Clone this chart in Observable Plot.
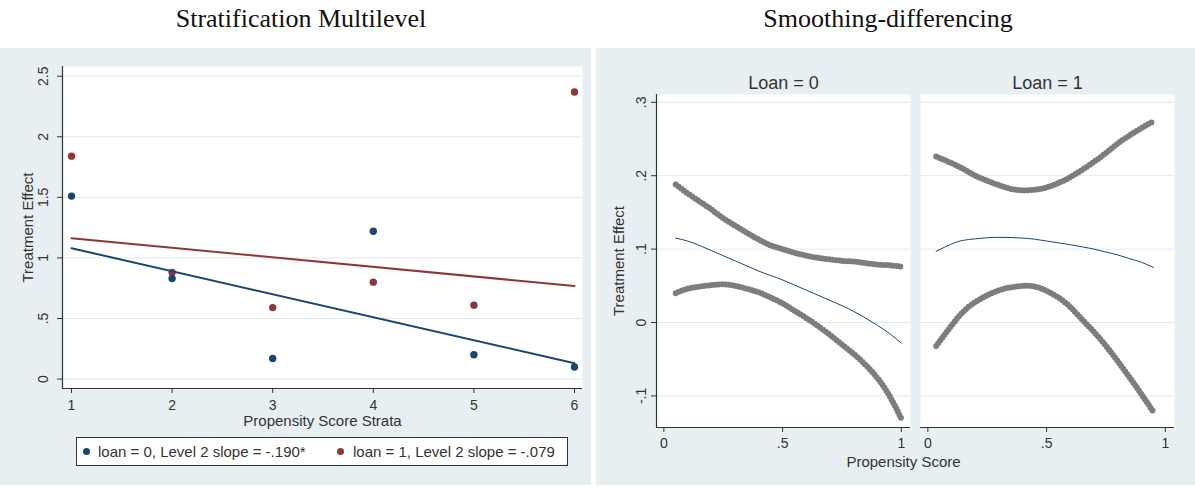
<!DOCTYPE html>
<html>
<head>
<meta charset="utf-8">
<script src="https://cdn.jsdelivr.net/npm/d3@7"></script>
<script src="https://cdn.jsdelivr.net/npm/@observablehq/plot@0.6"></script>
<style>
  html, body { margin: 0; padding: 0; background: #fff; }
  #fig { position: relative; width: 1195px; height: 487px; overflow: hidden;
         font-family: "Liberation Sans", Arial, sans-serif; color: #333; }
  .panel { position: absolute; background: #e8eff2; }
  .title { position: absolute; transform: translateX(-50%); white-space: nowrap;
           font-family: "Liberation Serif", "Times New Roman", serif; font-size: 26px; color: #111; }
  .chart { position: absolute; }
  #legend { position: absolute; left: 76px; top: 437px; width: 490px; height: 27px;
            background: #fff; border: 1px solid #333; font-size: 15px; }
  #legend .dot { position: absolute; top: 10px; width: 7px; height: 7px; border-radius: 50%; }
  #legend .lab { position: absolute; top: 0; line-height: 28px; white-space: nowrap; color: #333; }
</style>
</head>
<body>
<div id="fig">
  <div class="panel" style="left:0;top:48px;width:591px;height:437px"></div>
  <div class="panel" style="left:596px;top:48px;width:599px;height:437px"></div>
  <div class="title" style="left:301px;top:4px">Stratification Multilevel</div>
  <div class="title" style="left:888px;top:4px">Smoothing-differencing</div>
  <div class="chart" id="left" style="left:0;top:48px"></div>
  <div class="chart" id="right" style="left:596px;top:48px"></div>
  <div id="legend"></div>
</div>
<script>
// ---------- Stratification multilevel: treatment effect per propensity score stratum ----------
const strata = [1, 2, 3, 4, 5, 6];
const effectLoan0 = [1.51, 0.83, 0.17, 1.22, 0.20, 0.10];
const effectLoan1 = [1.84, 0.88, 0.59, 0.80, 0.61, 2.37];
const loanGroups = ["0", "1"];
const groupColors = ["#1a476f", "#90353b"];
const level2Intercepts = [1.27, 1.242];
const level2Slopes = [-0.190, -0.079];
const slopeStars = ["*", ""];
const strataTicks = [1, 2, 3, 4, 5, 6];
const effectTicks = [0, 0.5, 1, 1.5, 2, 2.5];

// ---------- Smoothing-differencing: local polynomial estimate with confidence bounds ----------
const loanFacets = ["Loan = 0", "Loan = 1"];
const scoreLoan0 = [0.05, 0.10, 0.15, 0.20, 0.25, 0.30, 0.35, 0.40, 0.45, 0.50,
                    0.55, 0.60, 0.65, 0.70, 0.75, 0.80, 0.85, 0.90, 0.95, 1.00];
const upperLoan0 = [0.188, 0.176, 0.165, 0.154, 0.142, 0.132, 0.122, 0.113, 0.105, 0.100,
                    0.095, 0.091, 0.088, 0.086, 0.084, 0.083, 0.081, 0.079, 0.078, 0.076];
const smoothLoan0 = [0.115, 0.111, 0.105, 0.098, 0.091, 0.084, 0.077, 0.070, 0.064, 0.058,
                     0.051, 0.044, 0.037, 0.030, 0.023, 0.015, 0.006, -0.004, -0.015, -0.028];
const lowerLoan0 = [0.040, 0.046, 0.049, 0.051, 0.052, 0.050, 0.046, 0.041, 0.034, 0.026,
                    0.016, 0.006, -0.005, -0.017, -0.030, -0.043, -0.058, -0.076, -0.100, -0.131];
const scoreLoan1 = [0.035, 0.10, 0.15, 0.20, 0.25, 0.30, 0.35, 0.40, 0.45, 0.50,
                    0.55, 0.60, 0.65, 0.70, 0.75, 0.80, 0.85, 0.90, 0.95];
const upperLoan1 = [0.226, 0.217, 0.209, 0.200, 0.193, 0.187, 0.182, 0.180, 0.181, 0.184,
                    0.190, 0.198, 0.208, 0.219, 0.231, 0.244, 0.255, 0.265, 0.274];
const smoothLoan1 = [0.097, 0.107, 0.112, 0.114, 0.1155, 0.116, 0.1158, 0.115, 0.1135, 0.111,
                     0.1085, 0.106, 0.103, 0.100, 0.096, 0.092, 0.087, 0.082, 0.075];
const lowerLoan1 = [-0.032, -0.004, 0.015, 0.028, 0.037, 0.044, 0.048, 0.050, 0.049, 0.043,
                    0.034, 0.021, 0.004, -0.013, -0.032, -0.053, -0.075, -0.098, -0.122];
const scoreTicks = [0, 0.5, 1];
const smoothTicks = [-0.1, 0, 0.1, 0.2, 0.3];

// Stata-style numbers: drop the leading zero (".5", "-.1")
const fmt = d => String(Math.round(d * 1000) / 1000).replace(/^(-?)0\./, "$1.");
const fmtSlope = d => d.toFixed(3).replace(/^(-?)0\./, "$1.");

const ink = "#333";
const gridColor = "#e3e9ec";
const fontFamily = "'Liberation Sans', Arial, sans-serif";

// ---------- left chart ----------
const effects = [effectLoan0, effectLoan1];
const pointRows = loanGroups.map((g, gi) =>
  strata.map((s, i) => ({stratum: s, effect: effects[gi][i], loan: g})));
const fitRows = loanGroups.map((g, gi) =>
  [strata[0], strata[strata.length - 1]].map(s => ({stratum: s, effect: level2Intercepts[gi] + level2Slopes[gi] * s, loan: g})));

const xL = [0.9105, 6.0795];
const yL = [-0.078, 2.58];

const left = Plot.plot({
  width: 591, height: 392,
  marginLeft: 62, marginRight: 9, marginTop: 18, marginBottom: 52,
  x: {domain: xL},
  y: {domain: yL},
  style: {fontFamily, fontSize: "14px", color: ink, background: "transparent", overflow: "visible"},
  marks: [
    Plot.frame({fill: "white", stroke: null}),
    Plot.gridY(effectTicks, {stroke: gridColor, strokeOpacity: 1}),
    Plot.ruleX([xL[0]], {stroke: ink, strokeWidth: 1.2}),
    Plot.ruleY([yL[0]], {stroke: ink, strokeWidth: 1.2}),
    Plot.axisX({ticks: strataTicks, tickSize: 5, tickPadding: 6.5, tickFormat: fmt, label: null, stroke: ink}),
    Plot.axisY({ticks: effectTicks, tickSize: 5, tickPadding: 10, tickRotate: -90, tickFormat: fmt, label: null, stroke: ink}),
    Plot.dot(pointRows[1], {x: "stratum", y: "effect", r: 3.7, fill: groupColors[1], stroke: null}),
    Plot.dot(pointRows[0], {x: "stratum", y: "effect", r: 3.7, fill: groupColors[0], stroke: null}),
    Plot.line(fitRows[1], {x: "stratum", y: "effect", stroke: groupColors[1], strokeWidth: 2}),
    Plot.line(fitRows[0], {x: "stratum", y: "effect", stroke: groupColors[0], strokeWidth: 2}),
    Plot.text(["Propensity Score Strata"], {text: d => d, frameAnchor: "bottom", lineAnchor: "bottom", dy: 37, fontSize: 15, fill: ink}),
    Plot.text(["Treatment Effect"], {text: d => d, frameAnchor: "left", rotate: -90, textAnchor: "middle", lineAnchor: "bottom", dx: -30, fontSize: 15, fill: ink})
  ]
});
document.getElementById("left").appendChild(left);

// legend below the left chart
const legend = document.getElementById("legend");
const legendPos = [[6, 21], [260, 276]];
loanGroups.forEach((g, gi) => {
  const dot = document.createElement("span");
  dot.className = "dot";
  dot.style.left = legendPos[gi][0] + "px";
  dot.style.background = groupColors[gi];
  const lab = document.createElement("span");
  lab.className = "lab";
  lab.style.left = legendPos[gi][1] + "px";
  lab.textContent = `loan = ${g}, Level 2 slope = ${fmtSlope(level2Slopes[gi])}${slopeStars[gi]}`;
  legend.appendChild(dot);
  legend.appendChild(lab);
});

// ---------- right chart (faceted by loan) ----------
const bandSeries = [
  [scoreLoan0, upperLoan0, smoothLoan0, lowerLoan0],
  [scoreLoan1, upperLoan1, smoothLoan1, lowerLoan1]
];
const bandRows = [], smoothRows = [];
loanFacets.forEach((f, fi) => {
  const [xs, up, mid, lo] = bandSeries[fi];
  xs.forEach((x, i) => {
    bandRows.push({facet: f, score: x, value: up[i], bound: f + " upper"});
    bandRows.push({facet: f, score: x, value: lo[i], bound: f + " lower"});
    smoothRows.push({facet: f, score: x, value: mid[i]});
  });
});

const xR = [-0.031, 1.0385];
const yR = [-0.143, 0.3106];

const right = Plot.plot({
  width: 599, height: 439,
  marginLeft: 60, marginRight: 20, marginTop: 46, marginBottom: 60,
  fx: {domain: loanFacets, paddingInner: 0.0378, paddingOuter: 0, label: null},
  x: {domain: xR},
  y: {domain: yR},
  style: {fontFamily, fontSize: "14px", color: ink, background: "transparent", overflow: "visible"},
  marks: [
    Plot.frame({fill: "white", stroke: null}),
    Plot.gridY(smoothTicks, {stroke: gridColor, strokeOpacity: 1}),
    Plot.ruleY([yR[0]], {stroke: ink, strokeWidth: 1.2}),
    Plot.ruleX([loanFacets[0]], {fx: d => d, x: () => xR[0], stroke: ink, strokeWidth: 1.2}),
    Plot.axisFx({anchor: "top", tickSize: 0, tickPadding: 6, fontSize: 18, label: null}),
    Plot.axisX({ticks: scoreTicks, tickSize: 5, tickPadding: 5.6, tickFormat: fmt, label: null, stroke: ink}),
    Plot.axisY({ticks: smoothTicks, tickSize: 5, tickPadding: 6, tickRotate: -90, tickFormat: fmt, label: null, stroke: ink}),
    // confidence bounds drawn as a chain of round markers
    Plot.line(bandRows, {fx: "facet", x: "score", y: "value", z: "bound", curve: "natural",
                         stroke: "#7d7d7d", strokeWidth: 6, strokeLinecap: "round", strokeDasharray: "0 3.4"}),
    Plot.line(smoothRows, {fx: "facet", x: "score", y: "value", curve: "natural",
                           stroke: "#1a476f", strokeWidth: 1}),
    Plot.text([loanFacets[0]], {fx: d => d, text: () => "Treatment Effect", frameAnchor: "left", rotate: -90,
                                textAnchor: "middle", lineAnchor: "bottom", dx: -33, fontSize: 15, fill: ink}),
    Plot.text([loanFacets[0]], {fx: d => d, text: () => "Propensity Score", frameAnchor: "bottom-right",
                                textAnchor: "middle", lineAnchor: "bottom", dx: -7, dy: 39.7, fontSize: 15, fill: ink})
  ]
});
document.getElementById("right").appendChild(right);
</script>
</body>
</html>
